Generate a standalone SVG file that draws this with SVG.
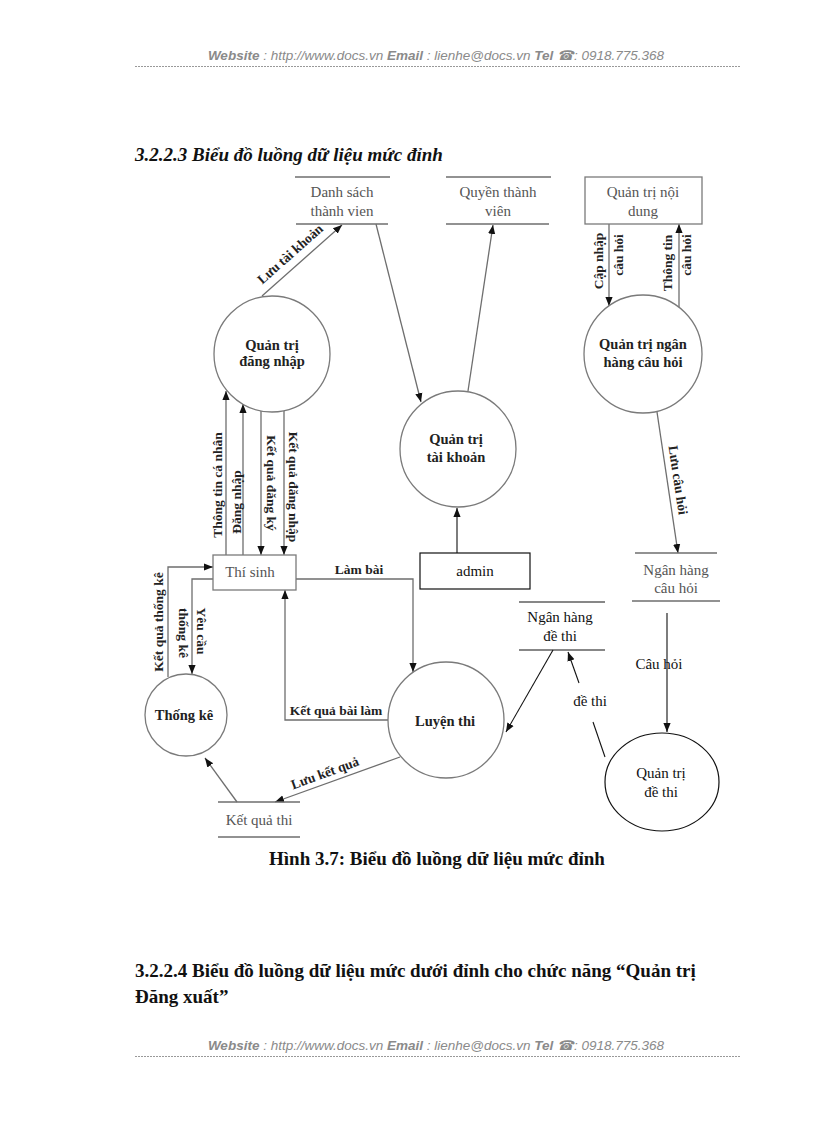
<svg xmlns="http://www.w3.org/2000/svg" width="816" height="1123" viewBox="0 0 816 1123">
<style>
.hdr{font-family:"Liberation Sans",Arial,sans-serif;font-size:13.5px;font-style:italic;fill:#8a8a8a}
.hb{font-weight:bold}
.sep{stroke:#999;stroke-width:1;stroke-dasharray:2 1}
.h3{font-family:"Liberation Serif","Times New Roman",serif;font-size:19px;font-weight:bold;fill:#111}
.node{fill:none;stroke:#7a7a7a;stroke-width:1.3}
.nodek{fill:none;stroke:#111;stroke-width:1.2}
.nt{font-family:"Liberation Serif","Times New Roman",serif;font-size:14.5px;font-weight:bold;fill:#222;text-anchor:middle}
.st{font-family:"Liberation Serif","Times New Roman",serif;font-size:15px;fill:#555;text-anchor:middle}
.stk{font-family:"Liberation Serif","Times New Roman",serif;font-size:15px;fill:#111;text-anchor:middle}
.ln{fill:none;stroke:#6e6e6e;stroke-width:1.3}
.lk{fill:none;stroke:#111;stroke-width:1.1}
.lb{font-family:"Liberation Serif","Times New Roman",serif;font-size:13.5px;font-weight:bold;fill:#222;text-anchor:middle;dominant-baseline:central}
.lbk{font-family:"Liberation Serif","Times New Roman",serif;font-size:15px;fill:#111;text-anchor:middle}
</style>
<defs>
<marker id="a" viewBox="0 0 10 10" refX="10" refY="5" markerWidth="9" markerHeight="9" markerUnits="userSpaceOnUse" orient="auto">
<path d="M0,1 L10,5 L0,9 z" fill="#111"/>
</marker>
</defs>
<rect width="816" height="1123" fill="#fff"/>

<g id="header">
<text class="hdr" x="436" y="60" text-anchor="middle"><tspan class="hb">Website</tspan> : http://www.docs.vn  <tspan class="hb">Email</tspan>  : lienhe@docs.vn   <tspan class="hb">Tel</tspan> ☎: 0918.775.368</text>
<line class="sep" x1="135" y1="66.5" x2="741" y2="66.5"/>
</g>

<text class="h3" x="135" y="161" font-style="italic">3.2.2.3 Biểu đồ luồng dữ liệu mức đỉnh</text>

<g id="connectors">
<path class="ln" d="M262,296 L342,225" marker-end="url(#a)"/>
<path class="ln" d="M376,224 L421,402" marker-end="url(#a)"/>
<path class="ln" d="M468,391 L493,225" marker-end="url(#a)"/>
<path class="lk" d="M457,553 L457,508" marker-end="url(#a)"/>
<path class="ln" d="M226,555 L226,391" marker-end="url(#a)"/>
<path class="ln" d="M243,555 L243,404" marker-end="url(#a)"/>
<path class="ln" d="M261,411 L261,555" marker-end="url(#a)"/>
<path class="ln" d="M284,411 L284,555" marker-end="url(#a)"/>
<path class="ln" d="M168,677 L168,567 L213,567" marker-end="url(#a)"/>
<path class="ln" d="M213,579 L192,579 L192,674" marker-end="url(#a)"/>
<path class="ln" d="M296,579 L413,579 L413,672" marker-end="url(#a)"/>
<path class="ln" d="M388,720 L285,720 L285,590" marker-end="url(#a)"/>
<path class="ln" d="M400,757 L275,802" marker-end="url(#a)"/>
<path class="ln" d="M237,802 L205,758" marker-end="url(#a)"/>
<path class="ln" d="M609,224 L609,306" marker-end="url(#a)"/>
<path class="ln" d="M679,307 L679,224" marker-end="url(#a)"/>
<path class="ln" d="M657,412 L678,553" marker-end="url(#a)"/>
<path class="lk" d="M667,613 L667,732" marker-end="url(#a)"/>
<path class="lk" d="M553,650 L506,732" marker-end="url(#a)"/>
<path class="lk" d="M605,757 L593,722"/>
<path class="lk" d="M579,683 L568,652" marker-end="url(#a)"/>

<text class="lb" transform="translate(290,254) rotate(-41.6)">Lưu tài khoản</text>
<text class="lb" transform="translate(217,485) rotate(-90)">Thông tin cá nhân</text>
<text class="lb" transform="translate(236,502) rotate(-90)">Đăng nhập</text>
<text class="lb" transform="translate(271,483) rotate(90)">Kết quả đăng ký</text>
<text class="lb" transform="translate(293,487) rotate(90)">Kết quả đăng nhập</text>
<text class="lb" transform="translate(158,622) rotate(-90)">Kết quả thống kê</text>
<text class="lb" transform="translate(201,631) rotate(90)">Yêu cầu</text>
<text class="lb" transform="translate(183,633) rotate(90)">thống kê</text>
<text class="lb" x="359" y="569">Làm bài</text>
<text class="lb" x="336" y="710">Kết quả bài làm</text>
<text class="lb" transform="translate(325,773) rotate(-20)">Lưu kết quả</text>
<text class="lb" transform="translate(598,261) rotate(-90)">Cập nhập</text>
<text class="lb" transform="translate(618,255) rotate(-90)">câu hỏi</text>
<text class="lb" transform="translate(667,263) rotate(-90)">Thông tin</text>
<text class="lb" transform="translate(686,255) rotate(-90)">câu hỏi</text>
<text class="lb" transform="translate(678,480) rotate(81.5)">Lưu câu hỏi</text>
<text class="lbk" x="659" y="669">Câu hỏi</text>
<text class="lbk" x="590" y="706">đề thi</text>
</g>

<g id="danh-sach-thanh-vien">
<line class="ln" x1="295" y1="177" x2="390" y2="177"/>
<line class="ln" x1="296" y1="224" x2="388" y2="224"/>
<text class="st" x="342" y="197">Danh sách</text>
<text class="st" x="342" y="216">thành vien</text>
</g>

<g id="quyen-thanh-vien">
<line class="ln" x1="446" y1="177" x2="551" y2="177"/>
<line class="ln" x1="446" y1="224" x2="549" y2="224"/>
<text class="st" x="498" y="197">Quyền thành</text>
<text class="st" x="498" y="216">viên</text>
</g>

<g id="quan-tri-noi-dung">
<rect class="node" x="585" y="177" width="117" height="47"/>
<text class="st" x="643" y="197">Quản trị nội</text>
<text class="st" x="643" y="216">dung</text>
</g>

<g id="quan-tri-dang-nhap">
<circle class="node" cx="272" cy="354" r="58"/>
<text class="nt" x="272" y="350">Quản trị</text>
<text class="nt" x="272" y="366">đăng nhập</text>
</g>

<g id="quan-tri-tai-khoan">
<circle class="node" cx="458" cy="449" r="58"/>
<text class="nt" x="456" y="444">Quản trị</text>
<text class="nt" x="456" y="462">tài khoản</text>
</g>

<g id="quan-tri-ngan-hang-cau-hoi">
<circle class="node" cx="643" cy="354" r="59"/>
<text class="nt" x="643" y="349">Quản trị ngân</text>
<text class="nt" x="643" y="367">hàng câu hỏi</text>
</g>

<g id="admin">
<rect class="nodek" x="420" y="553" width="110" height="36"/>
<text class="stk" x="475" y="576">admin</text>
</g>

<g id="thi-sinh">
<rect class="node" x="213" y="555" width="83" height="35"/>
<text class="st" x="250" y="577">Thí sinh</text>
</g>

<g id="ngan-hang-cau-hoi">
<line class="ln" x1="635" y1="553" x2="717" y2="553"/>
<line class="ln" x1="632" y1="601" x2="720" y2="601"/>
<text class="st" x="676" y="575">Ngân hàng</text>
<text class="st" x="676" y="593">câu hỏi</text>
</g>

<g id="ngan-hang-de-thi">
<line class="lk" x1="519" y1="602" x2="605" y2="602"/>
<line class="lk" x1="519" y1="650" x2="605" y2="650"/>
<text class="stk" x="560" y="622">Ngân hàng</text>
<text class="stk" x="560" y="641">đề thi</text>
</g>

<g id="thong-ke">
<circle class="node" cx="186" cy="715" r="41"/>
<text class="nt" x="184" y="720">Thống kê</text>
</g>

<g id="luyen-thi">
<circle class="node" cx="446" cy="720" r="58"/>
<text class="nt" x="445" y="726">Luyện thi</text>
</g>

<g id="ket-qua-thi">
<line class="ln" x1="218" y1="802" x2="300" y2="802"/>
<line class="ln" x1="218" y1="837" x2="300" y2="837"/>
<text class="st" x="259" y="825">Kết quả thi</text>
</g>

<g id="quan-tri-de-thi">
<ellipse class="nodek" cx="662" cy="782" rx="57" ry="49"/>
<text class="stk" x="661" y="778">Quản trị</text>
<text class="stk" x="661" y="797">đề thi</text>
</g>

<text class="h3" x="437" y="865" text-anchor="middle" font-size="18">Hình 3.7: Biểu đồ luồng dữ liệu mức đỉnh</text>

<text class="h3" x="135" y="977" font-size="19.8">3.2.2.4 Biểu đồ luồng dữ liệu mức dưới đỉnh cho chức năng “Quản trị</text>
<text class="h3" x="135" y="1003" font-size="19.8">Đăng xuất”</text>

<g id="footer">
<text class="hdr" x="436" y="1050" text-anchor="middle"><tspan class="hb">Website</tspan> : http://www.docs.vn  <tspan class="hb">Email</tspan>  : lienhe@docs.vn   <tspan class="hb">Tel</tspan> ☎: 0918.775.368</text>
<line class="sep" x1="135" y1="1056.5" x2="741" y2="1056.5"/>
</g>
</svg>
